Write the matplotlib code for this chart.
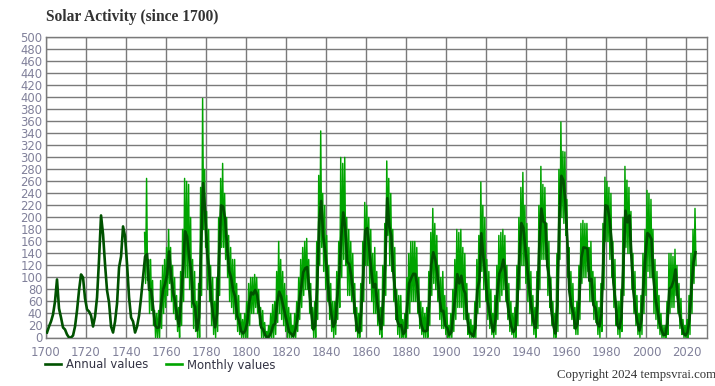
import numpy as np
import matplotlib
matplotlib.use("Agg")
import matplotlib.pyplot as plt

# ---------------- data ----------------
annual_start = 1700
annual_values = [
    8.3, 18.3, 26.7, 38.3, 60.0, 96.7, 48.3, 33.3, 16.7, 13.3,        # 1700
    5.0, 0.0, 0.0, 3.3, 18.3, 45.0, 78.3, 105.0, 100.0, 65.0,         # 1710
    46.7, 43.3, 36.7, 18.3, 35.0, 66.7, 130.0, 203.3, 171.7, 121.7,   # 1720
    78.3, 58.3, 18.3, 8.3, 26.7, 56.7, 116.7, 135.0, 185.0, 168.3,    # 1730
    121.7, 66.7, 33.3, 26.7, 8.3, 18.3, 36.7, 66.7, 100.0, 134.8,     # 1740
    139.0, 79.5, 79.7, 51.2, 20.3, 16.0, 17.0, 54.0, 79.3, 90.0,      # 1750
    104.8, 143.2, 102.0, 75.2, 60.7, 34.8, 19.0, 63.0, 116.3, 176.8,  # 1760
    168.0, 136.0, 110.8, 58.0, 51.0, 11.7, 33.0, 154.2, 257.3, 209.8, # 1770
    141.3, 113.5, 64.2, 38.0, 17.0, 40.2, 138.2, 220.0, 218.2, 196.8, # 1780
    149.8, 111.0, 100.0, 78.2, 68.3, 35.5, 26.7, 10.7, 6.8, 11.3,     # 1790
    24.2, 56.7, 75.0, 71.8, 79.2, 70.3, 46.8, 16.8, 13.5, 4.2,        # 1800
    0.0, 2.3, 8.3, 20.3, 23.2, 59.0, 76.3, 68.3, 52.9, 38.5,          # 1810
    24.2, 9.2, 6.3, 2.2, 11.4, 28.2, 59.9, 83.0, 108.5, 115.2,        # 1820
    117.4, 80.8, 44.3, 13.4, 19.5, 85.8, 192.7, 227.3, 168.7, 143.0,  # 1830
    105.5, 63.3, 40.3, 18.1, 25.1, 65.8, 102.7, 166.3, 208.3, 182.5,  # 1840
    126.3, 122.0, 102.7, 74.1, 39.0, 12.7, 8.2, 43.4, 104.4, 178.3,   # 1850
    182.2, 146.6, 112.1, 83.5, 89.2, 57.8, 30.7, 13.9, 62.8, 123.6,   # 1860
    232.0, 185.3, 169.2, 110.1, 74.5, 28.3, 18.9, 20.7, 5.7, 10.0,    # 1870
    53.7, 90.5, 99.0, 106.1, 105.8, 86.3, 42.4, 21.8, 11.2, 10.4,     # 1880
    11.8, 59.5, 121.7, 142.0, 130.0, 106.6, 69.4, 43.8, 44.4, 20.2,   # 1890
    15.7, 4.6, 8.5, 40.8, 70.1, 105.5, 90.1, 102.8, 80.9, 73.2,       # 1900
    30.9, 9.5, 6.0, 2.4, 16.1, 79.0, 95.0, 173.6, 134.6, 105.7,       # 1910
    62.7, 43.5, 23.7, 9.7, 27.9, 74.0, 106.5, 114.7, 129.7, 108.2,    # 1920
    59.4, 35.1, 18.6, 9.2, 14.6, 60.2, 132.8, 190.6, 182.6, 148.0,    # 1930
    113.0, 79.2, 50.8, 27.1, 16.1, 55.3, 154.3, 214.7, 193.0, 190.7,  # 1940
    118.9, 98.3, 45.0, 20.1, 6.6, 54.2, 200.7, 269.3, 261.7, 225.1,   # 1950
    159.0, 76.4, 53.4, 39.9, 15.0, 22.0, 66.8, 132.9, 150.0, 149.4,   # 1960
    148.0, 94.4, 97.6, 54.1, 49.2, 22.5, 18.4, 39.3, 131.0, 220.1,    # 1970
    218.9, 198.9, 162.4, 91.0, 60.5, 20.6, 14.8, 33.9, 123.0, 211.1,  # 1980
    191.8, 203.3, 133.0, 76.1, 44.9, 25.1, 11.6, 28.9, 88.3, 136.3,   # 1990
    173.9, 170.4, 163.6, 99.3, 65.3, 45.8, 24.7, 12.6, 4.2, 4.8,      # 2000
    24.9, 80.8, 84.5, 94.0, 113.3, 69.8, 39.8, 21.7, 7.0, 3.6,        # 2010
    8.8, 29.6, 83.2, 125.5, 142.0,                                    # 2020
]

# monthly values summarised per year (lowest and highest month), from 1749
monthly_start = 1749
monthly_low = [
    90, 95, 40, 45, 20, 0, 0, 0, 15, 40,          # 1749
    50, 70, 90, 60, 40, 30, 10, 0, 20, 60,        # 1759
    100, 100, 80, 50, 15, 10, 0, 0, 70, 180,      # 1769
    150, 80, 60, 20, 5, 0, 10, 70, 150, 150,      # 1779
    130, 100, 60, 50, 40, 30, 10, 5, 0, 0,        # 1789
    0, 0, 20, 40, 40, 50, 40, 20, 0, 0,           # 1799
    0, 0, 0, 0, 0, 5, 25, 40, 30, 20,             # 1809
    10, 0, 0, 0, 0, 0, 10, 30, 50, 70,            # 1819
    80, 80, 40, 15, 0, 0, 30, 120, 150, 110,      # 1829
    80, 60, 30, 10, 0, 5, 30, 50, 100, 130,       # 1839
    120, 70, 70, 60, 40, 10, 0, 0, 10, 60,        # 1849
    120, 120, 90, 60, 40, 40, 20, 5, 0, 20,       # 1859
    70, 170, 120, 110, 60, 30, 5, 0, 0, 0,        # 1869
    0, 15, 40, 60, 60, 60, 40, 15, 5, 0,          # 1879
    0, 0, 20, 70, 90, 80, 60, 30, 15, 15,         # 1889
    5, 0, 0, 0, 10, 30, 50, 50, 50, 30,           # 1899
    30, 5, 0, 0, 0, 0, 40, 50, 110, 80,           # 1909
    60, 30, 15, 5, 0, 5, 30, 60, 70, 80,          # 1919
    60, 30, 10, 5, 0, 0, 20, 80, 120, 120,        # 1929
    90, 60, 40, 20, 5, 0, 15, 80, 130, 130,       # 1939
    130, 70, 50, 20, 0, 0, 10, 130, 200, 190,     # 1949
    170, 100, 40, 30, 15, 5, 5, 30, 90, 100,      # 1959
    100, 110, 60, 60, 30, 25, 5, 0, 10, 80,       # 1969
    160, 160, 130, 100, 50, 20, 5, 0, 10, 70,     # 1979
    150, 140, 140, 80, 40, 20, 5, 0, 5, 40,       # 1989
    70, 110, 100, 100, 40, 30, 15, 5, 0, 0,       # 1999
    0, 5, 40, 50, 50, 70, 40, 15, 5, 0,           # 2009
    0, 0, 5, 40, 90, 120,                         # 2019
]
monthly_high = [
    175, 265, 130, 130, 95, 45, 40, 45, 95, 120,       # 1749
    130, 150, 180, 150, 120, 100, 70, 50, 110, 180,    # 1759
    265, 260, 255, 200, 130, 110, 60, 90, 250, 398,    # 1769
    280, 210, 180, 120, 100, 60, 100, 200, 265, 290,   # 1779
    240, 200, 170, 150, 130, 130, 90, 70, 40, 30,      # 1789
    40, 60, 90, 100, 100, 105, 100, 80, 50, 45,        # 1799
    25, 10, 20, 40, 55, 60, 110, 160, 130, 110,        # 1809
    90, 70, 50, 40, 20, 40, 60, 100, 130, 150,         # 1819
    160, 165, 130, 90, 50, 60, 160, 270, 344, 240,     # 1829
    220, 170, 120, 90, 60, 60, 110, 160, 300, 290,     # 1839
    300, 200, 180, 160, 140, 90, 50, 40, 90, 160,      # 1849
    225, 220, 200, 180, 140, 150, 110, 80, 50, 120,    # 1859
    190, 294, 265, 240, 180, 150, 80, 70, 70, 30,      # 1869
    40, 100, 140, 160, 160, 160, 150, 100, 60, 50,     # 1879
    40, 50, 110, 175, 215, 190, 170, 120, 100, 110,    # 1889
    70, 50, 20, 40, 80, 130, 180, 175, 180, 150,       # 1899
    140, 90, 40, 30, 20, 60, 130, 170, 259, 220,       # 1909
    200, 130, 110, 80, 40, 70, 120, 170, 175, 180,     # 1919
    170, 120, 90, 60, 40, 50, 120, 200, 250, 275,      # 1929
    220, 190, 150, 110, 70, 50, 110, 220, 285, 255,    # 1939
    250, 190, 160, 100, 60, 40, 140, 280, 359, 310,    # 1949
    309, 230, 150, 110, 90, 50, 60, 120, 190, 195,     # 1959
    190, 190, 150, 160, 110, 100, 60, 50, 90, 190,     # 1969
    267, 260, 250, 240, 160, 130, 60, 60, 80, 200,     # 1979
    285, 262, 250, 210, 140, 110, 70, 40, 70, 140,     # 1989
    180, 245, 240, 230, 180, 130, 110, 70, 40, 20,     # 1999
    20, 60, 140, 140, 135, 147, 120, 90, 65, 30,       # 2009
    20, 30, 70, 140, 180, 215,                         # 2019
]

y_ticks = list(range(0, 501, 20))
x_ticks = list(range(1700, 2021, 20))

# ---------------- figure ----------------
annual_years = np.arange(annual_start, annual_start + len(annual_values)) + 0.5
m_years = np.arange(monthly_start, monthly_start + len(monthly_low))
mx = np.ravel(np.column_stack([m_years + 0.25, m_years + 0.75]))
my = np.ravel(np.column_stack([monthly_high, monthly_low]))

W, H = 715, 386
fig = plt.figure(figsize=(W / 100, H / 100), dpi=100)
ax = fig.add_axes([46 / W, 1 - 337.5 / H, (706.5 - 46) / W, (337.5 - 37.3) / H])

grid_col = "#7a7a7a"
tick_col = "#80809a"
dark = "#005200"
bright = "#00a400"

ax.plot(mx, my, color=bright, lw=1.05, label="Monthly values", zorder=3)
ax.plot(annual_years, annual_values, color=dark, lw=1.9, label="Annual values", zorder=4)

ax.set_xlim(1700, 2030)
ax.set_ylim(0, 500)
ax.set_yticks(y_ticks)
ax.set_xticks(x_ticks)
ax.grid(True, color=grid_col, lw=1.0, zorder=1)
ax.set_axisbelow(True)
for s in ax.spines.values():
    s.set_color(grid_col)
    s.set_linewidth(1.0)
ax.tick_params(length=0, labelsize=8.4, colors=tick_col)
ax.tick_params(axis="y", pad=2.5)
ax.tick_params(axis="x", pad=6)

fig.text(46 / W, 1 - 17 / H, "Solar Activity (since 1700)", family="Liberation Serif",
         fontweight="bold", fontsize=11.2, color="#333333", ha="left", va="center")
fig.text(716 / W, 1 - 375 / H, "Copyright 2024 tempsvrai.com", family="Liberation Serif",
         fontsize=9.2, color="#333333", ha="right", va="center")

h1, = ax.plot([], [], color=dark, lw=1.9)
h2, = ax.plot([], [], color=bright, lw=1.9)
leg = fig.legend([h1, h2], ["Annual values", "Monthly values"], loc="center left",
                 bbox_to_anchor=(45 / W, 1 - 365 / H), ncol=2, frameon=False,
                 fontsize=8.4, handlelength=1.4, handletextpad=0.4, columnspacing=1.5,
                 borderpad=0, borderaxespad=0)
for t in leg.get_texts():
    t.set_color("#333344")

fig.savefig("out.png", dpi=100)
